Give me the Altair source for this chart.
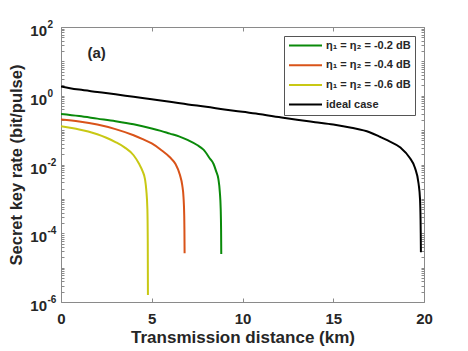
import altair as alt
import pandas as pd

# ---- data ----
series_names = ["η₁ = η₂ = -0.2 dB", "η₁ = η₂ = -0.4 dB", "η₁ = η₂ = -0.6 dB", "ideal case"]
series_colors = ["#0a8a0a", "#D95319", "#C8C814", "#000000"]

green_d = [0, 1, 2, 3, 4, 5, 5.5, 6, 6.5, 7, 7.5, 7.85, 8.2, 8.4, 8.55, 8.67, 8.75, 8.8, 8.82, 8.83]
green_v = [0.295, 0.257, 0.216, 0.182, 0.148, 0.112, 0.095, 0.079, 0.066, 0.051, 0.037, 0.027,
           0.015, 0.0105, 0.0063, 0.0038, 0.0016, 5e-4, 1.26e-4, 2.5e-5]

orange_d = [0, 1, 2, 3, 4, 4.5, 5, 5.5, 6, 6.3, 6.55, 6.68, 6.75, 6.79, 6.8, 6.81]
orange_v = [0.204, 0.178, 0.145, 0.107, 0.071, 0.055, 0.041, 0.027, 0.0162, 0.0105, 0.005,
            0.0025, 0.00112, 3.2e-4, 1.3e-4, 2.6e-5]

yellow_d = [0, 0.5, 1, 1.5, 2, 2.5, 3, 3.5, 4, 4.3, 4.5, 4.63, 4.7, 4.76, 4.78, 4.79]
yellow_v = [0.129, 0.117, 0.105, 0.091, 0.076, 0.060, 0.045, 0.0316, 0.0186, 0.0105, 0.0063,
            0.0037, 0.0018, 5e-4, 6.3e-5, 1.6e-6]

ideal_d = [0, 0.5, 1, 2, 3, 4, 5, 6, 7, 8, 9, 10, 11, 12, 13, 14, 15, 16, 17, 17.6, 18, 18.7,
           19.2, 19.5, 19.7, 19.78, 19.81, 19.82, 19.83]
ideal_v = [1.86, 1.66, 1.51, 1.29, 1.10, 0.93, 0.79, 0.67, 0.56, 0.48, 0.40, 0.34, 0.29, 0.24,
           0.20, 0.17, 0.145, 0.117, 0.087, 0.063, 0.05, 0.031, 0.016, 0.008, 0.0028, 0.001,
           2.5e-4, 1e-4, 2.8e-5]

x_ticks = [0, 5, 10, 15, 20]
y_ticks = sorted(set([float(f"{m}e{k}") for k in range(-6, 2) for m in range(1, 10)] + [100.0]))
y_label_values = [100.0, 1.0, 0.01, 0.0001, 0.000001]
y_label_base = ["10", "10", "10", "10", "10"]
y_label_exp = ["2", "0", "-2", "-4", "-6"]
panel_label = "(a)"
panel_label_pos = (1.96, 18.0)

# ---- build tables ----
rows = []
for name, ds, vs in [(series_names[0], green_d, green_v),
                     (series_names[1], orange_d, orange_v),
                     (series_names[2], yellow_d, yellow_v),
                     (series_names[3], ideal_d, ideal_v)]:
    for d, v in zip(ds, vs):
        rows.append({"d": d, "v": v, "series": name})
df = pd.DataFrame(rows)
df_lab = pd.DataFrame({"d": [panel_label_pos[0]], "v": [panel_label_pos[1]], "t": [panel_label]})
df_ylab = pd.DataFrame({"d": [0.0] * len(y_label_values), "v": y_label_values,
                        "base": y_label_base, "exp": y_label_exp})

FONT = "Liberation Sans, Arial, Helvetica, sans-serif"
TXT = "#262626"
FRAME = "#8a8a8a"

xscale = alt.Scale(domain=[0, 20], nice=False, zero=False)
yscale = alt.Scale(type="log", domain=[1e-6, 100], nice=False)

x_axis = alt.Axis(orient="bottom", values=x_ticks, title="Transmission distance (km)",
                  domain=False, grid=False, labelFlush=False,
                  tickSize=4, offset=-4, tickColor=FRAME, labelPadding=9,
                  labelFont=FONT, labelFontSize=15, labelFontWeight="bold", labelColor=TXT,
                  titleFont=FONT, titleFontSize=17, titleFontWeight="bold", titleColor=TXT,
                  titlePadding=3, labelOverlap=False)
y_axis = alt.Axis(orient="left", values=y_ticks, labels=False,
                  title="Secret key rate (bit/pulse)",
                  domain=False, grid=False, tickSize=3, offset=-3, tickColor=FRAME,
                  titleFont=FONT, titleFontSize=16.5, titleFontWeight="bold", titleColor=TXT,
                  titlePadding=36)

lines = alt.Chart(df).mark_line(strokeWidth=2, clip=True, interpolate="monotone").encode(
    x=alt.X("d:Q", scale=xscale, axis=x_axis),
    y=alt.Y("v:Q", scale=yscale, axis=y_axis),
    color=alt.Color("series:N", sort=series_names,
                    scale=alt.Scale(domain=series_names, range=series_colors),
                    legend=alt.Legend(orient="none", legendX=223, legendY=9, title=None,
                                      symbolType="stroke", symbolSize=1089, symbolStrokeWidth=2,
                                      clipHeight=11, rowPadding=7.7, padding=4, labelOffset=3,
                                      labelFont=FONT, labelFontSize=11, labelFontWeight="bold",
                                      labelColor=TXT, labelLimit=300,
                                      strokeColor="#555555", fillColor="white")),
)

label = alt.Chart(df_lab).mark_text(font=FONT, fontSize=15, fontWeight="bold", color=TXT).encode(
    x=alt.X("d:Q", scale=xscale,
            axis=alt.Axis(orient="top", values=x_ticks, labels=False, title=None, domain=False,
                          grid=False, tickSize=4, offset=-4, tickColor=FRAME)),
    y=alt.Y("v:Q", scale=yscale,
            axis=alt.Axis(orient="right", values=y_ticks, labels=False, title=None, domain=False,
                          grid=False, tickSize=3, offset=-3, tickColor=FRAME)),
    text="t:N",
)

ybase = alt.Chart(df_ylab).mark_text(font=FONT, fontSize=15, fontWeight="bold", color=TXT,
                                     align="right", baseline="middle", dx=-14, dy=4).encode(
    x=alt.X("d:Q", scale=xscale, axis=None),
    y=alt.Y("v:Q", scale=yscale, axis=None),
    text="base:N",
)
yexp = alt.Chart(df_ylab).mark_text(font=FONT, fontSize=10, fontWeight="bold", color=TXT,
                                    align="left", baseline="middle", dx=-13.5, dy=-2).encode(
    x=alt.X("d:Q", scale=xscale, axis=None),
    y=alt.Y("v:Q", scale=yscale, axis=None),
    text="exp:N",
)

chart = alt.layer(lines, label, ybase, yexp).properties(
    width=363, height=275,
    autosize=alt.AutoSizeParams(type="none"),
    padding={"left": 53, "top": 19, "right": 36, "bottom": 45},
).configure_view(stroke=FRAME, strokeWidth=1)

chart.save("out.html", embed_options={"renderer": "svg", "actions": False})
